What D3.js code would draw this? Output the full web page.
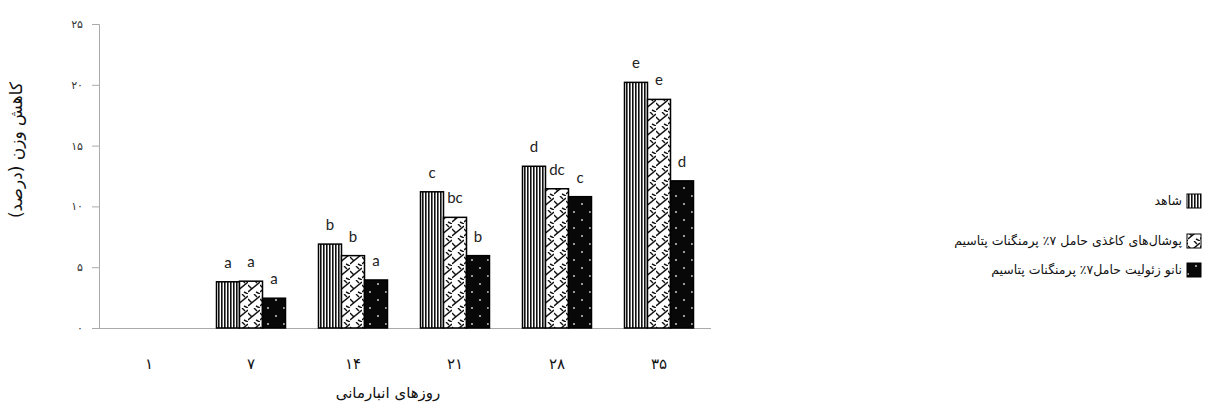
<!DOCTYPE html>
<html>
<head>
<meta charset="utf-8">
<script src="https://cdn.jsdelivr.net/npm/d3@7"></script>
<style>
  body { margin: 0; background: #fff; }
  svg { display: block; }
</style>
</head>
<body>
<svg width="1208" height="407"></svg>
<script>
// storage days (x categories) and their persian labels
var days = ["1", "7", "14", "21", "28", "35"];
var dayLabels = ["۱", "۷", "۱۴", "۲۱", "۲۸", "۳۵"];

// weight loss % per treatment
var control = [0, 3.8, 6.9, 11.2, 13.3, 20.2];
var paper = [0, 3.85, 5.95, 9.1, 11.45, 18.8];
var nano = [0, 2.45, 3.95, 5.95, 10.8, 12.1];

// significance letters
var controlLetters = ["", "a", "b", "c", "d", "e"];
var paperLetters = ["", "a", "b", "bc", "dc", "e"];
var nanoLetters = ["", "a", "a", "b", "c", "d"];

var yTicks = [0, 5, 10, 15, 20, 25];
var yTickLabels = ["۰", "۵", "۱۰", "۱۵", "۲۰", "۲۵"];

var seriesNames = ["شاهد", "پوشال‌های کاغذی حامل ۷٪ پرمنگنات پتاسیم", "نانو زئولیت حامل۷٪ پرمنگنات پتاسیم"];
var seriesKeys = ["control", "paper", "nano"];
var seriesVals = [control, paper, nano];
var seriesLetters = [controlLetters, paperLetters, nanoLetters];

var svg = d3.select("svg");
var persian = "'DejaVu Sans', sans-serif";

// patterns
var defs = svg.append("defs");
var p1 = defs.append("pattern").attr("id", "pat-control")
  .attr("patternUnits", "userSpaceOnUse").attr("width", 3).attr("height", 10);
p1.append("rect").attr("width", 3).attr("height", 10).attr("fill", "#fff");
p1.append("rect").attr("x", 0).attr("width", 1.6).attr("height", 10).attr("fill", "#111");

var p2 = defs.append("pattern").attr("id", "pat-paper")
  .attr("patternUnits", "userSpaceOnUse").attr("width", 12).attr("height", 14);
p2.append("rect").attr("width", 12).attr("height", 14).attr("fill", "#fff");
p2.append("path")
  .attr("d", "M0,12 L12,2 M0,5 L4,9 M8,12 L12,14 M6,0 L9,3")
  .attr("stroke", "#111").attr("stroke-width", 1.4).attr("fill", "none");

var p3 = defs.append("pattern").attr("id", "pat-nano")
  .attr("patternUnits", "userSpaceOnUse").attr("width", 16).attr("height", 16);
p3.append("rect").attr("width", 16).attr("height", 16).attr("fill", "#080808");
p3.append("circle").attr("cx", 4).attr("cy", 4).attr("r", 1.1).attr("fill", "#bbb");
p3.append("circle").attr("cx", 12).attr("cy", 12).attr("r", 1.1).attr("fill", "#bbb");

var fills = {control: "url(#pat-control)", paper: "url(#pat-paper)", nano: "url(#pat-nano)"};

var x0 = d3.scaleBand().domain(days).range([98, 710]);
var x1 = d3.scaleBand().domain(seriesKeys).range([0, x0.bandwidth()])
  .paddingInner(0).paddingOuter(0.717);
var y = d3.scaleLinear().domain([0, 25]).range([328, 24]);

// axes
var yAxis = svg.append("g").attr("transform", "translate(99,0)")
  .call(d3.axisLeft(y).tickValues(yTicks).tickSize(7)
    .tickFormat(function(d, i) { return yTickLabels[i]; }));
yAxis.select(".domain").attr("stroke", "#aaa");
yAxis.selectAll(".tick line").attr("stroke", "#aaa");
yAxis.selectAll(".tick text").attr("font-family", persian).attr("font-size", 11)
  .attr("fill", "#333").attr("dx", -6);

var xAxis = svg.append("g").attr("transform", "translate(0,328)")
  .call(d3.axisBottom(x0).tickSize(0).tickFormat(function(d, i) { return dayLabels[i]; }));
xAxis.select(".domain").attr("stroke", "#aaa").attr("d", "M99,0.5H711");
xAxis.selectAll(".tick text").attr("font-family", persian).attr("font-size", 15)
  .attr("fill", "#111").attr("dy", "2.5em");

// bars
var groups = svg.append("g").selectAll("g")
  .data(days).enter().append("g")
  .attr("transform", function(d) { return "translate(" + x0(d) + ",0)"; });

groups.each(function(d, i) {
  var g = d3.select(this);
  seriesKeys.forEach(function(k, s) {
    var v = seriesVals[s][i];
    if (!v) return;
    g.append("rect")
      .attr("x", x1(k))
      .attr("y", y(v))
      .attr("width", x1.bandwidth())
      .attr("height", y(0) - y(v))
      .attr("fill", fills[k])
      .attr("stroke", "#000")
      .attr("stroke-width", 1.5);
    g.append("text")
      .attr("x", x1(k) + x1.bandwidth() / 2)
      .attr("y", y(v) - 14)
      .attr("text-anchor", "middle")
      .attr("font-family", "Lato, sans-serif")
      .attr("font-size", 15)
      .attr("fill", "#222")
      .text(seriesLetters[s][i]);
  });
});

// axis titles
svg.append("text")
  .attr("transform", "translate(22,150) rotate(-90)")
  .attr("text-anchor", "middle")
  .attr("font-family", persian).attr("font-size", 17).attr("fill", "#111")
  .text("کاهش وزن (درصد)");

svg.append("text")
  .attr("x", 388).attr("y", 398)
  .attr("text-anchor", "middle")
  .attr("font-family", persian).attr("font-size", 15).attr("fill", "#111")
  .text("روزهای انبارمانی");

// legend
var legendY = [201, 241, 270];
var legend = svg.append("g").selectAll("g")
  .data(seriesKeys).enter().append("g")
  .attr("transform", function(d, i) { return "translate(0," + legendY[i] + ")"; });
legend.append("rect")
  .attr("x", 1187).attr("y", -7).attr("width", 14).attr("height", 14)
  .attr("fill", function(d) { return fills[d]; })
  .attr("stroke", "#000").attr("stroke-width", 1);
legend.append("text")
  .attr("x", 1182).attr("y", 0).attr("dy", "0.35em")
  .attr("direction", "rtl").attr("text-anchor", "start")
  .attr("font-family", persian).attr("font-size", 12.5).attr("fill", "#111")
  .text(function(d, i) { return seriesNames[i]; });
</script>
</body>
</html>
